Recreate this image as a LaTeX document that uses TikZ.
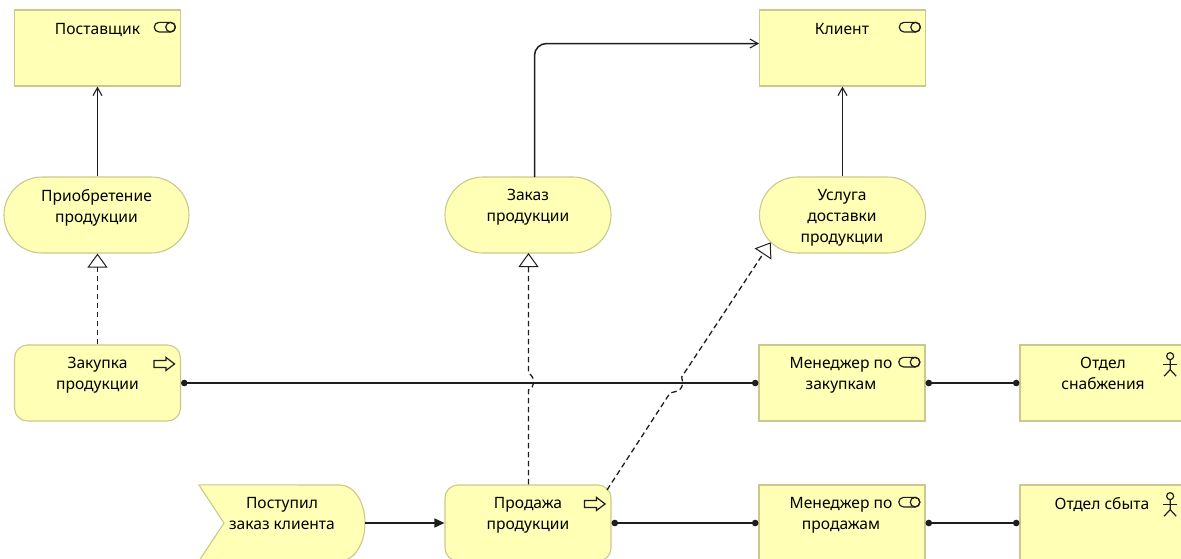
\documentclass[tikz,border=0pt]{standalone}
\usepackage{fontspec}
\setmainfont{Noto Sans}
\usetikzlibrary{arrows.meta,calc,positioning,shapes.misc}

\definecolor{boxfill}{HTML}{FFFFB5}
\definecolor{boxline}{HTML}{C9C98E}
\definecolor{conline}{HTML}{1E1E1E}

\tikzset{
	boxbase/.style={draw=boxline,fill=boxfill,line width=1.1pt,minimum width=166pt,minimum height=76pt,inner sep=0pt},
	actorbox/.style={boxbase},
	procbox/.style={boxbase,rounded corners=13pt},
	servbox/.style={boxbase,rounded rectangle,rounded rectangle arc length=180},
	txt/.style={font=\fontsize{15.6pt}{21pt}\selectfont,align=center,anchor=north,text=black,inner sep=0pt,execute at begin node=\strut},
	flowline/.style={conline,line width=1.5pt},
	openline/.style={flowline,-{Straight Barb[length=8pt,width=9pt,line width=1.1pt]}},
	realline/.style={flowline,line width=1.3pt,dash pattern=on 5.5pt off 3.5pt,-{Triangle[open,fill=white,length=14pt,width=20pt,line width=1pt]}},
	assignline/.style={flowline,line width=1.6pt,{Circle[length=6.5pt]}-{Circle[length=6.5pt]}},
	trigline/.style={flowline,-{Triangle[length=10pt,width=9pt]}},
	iconline/.style={conline,line width=1.2pt},
}

% role icon, right and top edge of the box
\newcommand{\roleicon}[1]{
	\draw[iconline] ($(#1.north east)+(-22,12.9)$) -- ($(#1.north east)+(-10.5,12.9)$) arc[start angle=90,end angle=-90,radius=4.8pt] -- ($(#1.north east)+(-22,22.5)$) arc[start angle=270,end angle=90,radius=4.8pt] -- cycle;
	\draw[iconline] ($(#1.north east)+(-10.5,17.7)$) circle (4.8pt);
}
% process icon
\newcommand{\procicon}[1]{
	\draw[iconline] ($(#1.north east)+(-27,16)$) -- ++(12,0) -- ++(0,-3) -- ++(8.5,6.5) -- ++(-8.5,6.5) -- ++(0,-3) -- ++(-12,0) -- cycle;
}
% actor icon
\newcommand{\actoricon}[1]{
	\draw[iconline] ($(#1.north west)+(150.7,11.7)$) circle (3.5pt);
	\draw[iconline] ($(#1.north west)+(150.7,15.2)$) -- ++(0,10) -- ++(-6,6.5) ++(6,-6.5) -- ++(6,6.5);
	\draw[iconline] ($(#1.north west)+(144,20)$) -- ++(13.4,0);
}

\begin{document}
\begin{tikzpicture}[x=1pt,y=-1pt]

	\useasboundingbox (0,0) rectangle (1181,558);
	\clip (0,0) rectangle (1181,558);

	%Top row
	\node[actorbox] (supplier) at (97.5,48) {};
	\node[actorbox] (client) at (842.5,48) {};
	\node[txt] at (97.5,19.3) {Поставщик};
	\node[txt] at (842,19.3) {Клиент};
	\roleicon{supplier}
	\roleicon{client}

	%Services
	\node[servbox,minimum width=185pt] (purchserv) at (96.5,215) {};
	\node[servbox] (orderserv) at (528,215) {};
	\node[servbox] (delivserv) at (842.5,215) {};
	\node[txt] at (96.5,189.3) {Приобретение\\продукции};
	\node[txt] at (528,189.3) {Заказ\\продукции};
	\node[txt] at (842,189.3) {Услуга\\доставки\\продукции};

	%Middle row
	\node[procbox] (purchproc) at (97.5,383) {};
	\node[actorbox] (purchmgr) at (842,383) {};
	\node[actorbox] (supplydep) at (1103,383) {};
	\node[txt] at (97.5,357.3) {Закупка\\продукции};
	\node[txt] at (841,357.3) {Менеджер по\\закупкам};
	\node[txt] at (1103,357.3) {Отдел\\снабжения};
	\procicon{purchproc}
	\roleicon{purchmgr}
	\actoricon{supplydep}

	%Bottom row
	\node[minimum width=166pt,minimum height=76pt,inner sep=0pt] (orderevent) at (282,523) {};
	\draw[boxbase] (orderevent.north west) -- (340,485) .. controls (354,485) and (365,502) .. (365,523) .. controls (365,544) and (354,561) .. (340,561) -- (orderevent.south west) -- (224,523) -- cycle;
	\node[procbox] (salesproc) at (528,523) {};
	\node[actorbox] (salesmgr) at (842,523) {};
	\node[actorbox] (salesdep) at (1103,523) {};
	\node[txt] at (282,497.3) {Поступил\\заказ клиента};
	\node[txt] at (528,497.3) {Продажа\\продукции};
	\node[txt] at (841,497.3) {Менеджер по\\продажам};
	\node[txt] at (1102,494.3) {Отдел сбыта};
	\procicon{salesproc}
	\roleicon{salesmgr}
	\actoricon{salesdep}

	%Served by
	\draw[openline] (purchserv.north -| supplier.south) -- (supplier.south);
	\draw[openline] (delivserv.north) -- (client.south);
	\coordinate (orderout) at (534.5,177);
	\coordinate (clientin) at (759,43.5);
	\draw[openline,rounded corners=12pt] (orderout) |- (clientin);

	%Realization, with jumps over the long line
	\draw[realline] (purchproc.north) -- (purchserv.south -| purchproc.north);
	\coordinate (ordertip) at (528.5,253);
	\coordinate (jumpalow) at (528.5,390);
	\coordinate (jumpahigh) at (528.5,373);
	\draw[realline] (salesproc.north -| ordertip) -- (jumpalow) .. controls (535,387) and (536,378) .. (jumpahigh) -- (ordertip);
	\coordinate (salesout) at (607,490);
	\coordinate (delivtip) at (770.7,242.3);
	\coordinate (jumpblow) at (670,393);
	\coordinate (jumpbhigh) at (681.7,377);
	\draw[realline] (salesout) -- (jumpblow) .. controls (678,391) and (685,390) .. (jumpbhigh) -- (delivtip);

	%Assignment
	\draw[assignline] (purchproc) -- (purchmgr);
	\draw[assignline] (purchmgr) -- (supplydep);
	\draw[assignline] (salesproc) -- (salesmgr);
	\draw[assignline] (salesmgr) -- (salesdep);

	%Trigger
	\draw[trigline] (orderevent.east) -- (salesproc.west);

\end{tikzpicture}
\end{document}
